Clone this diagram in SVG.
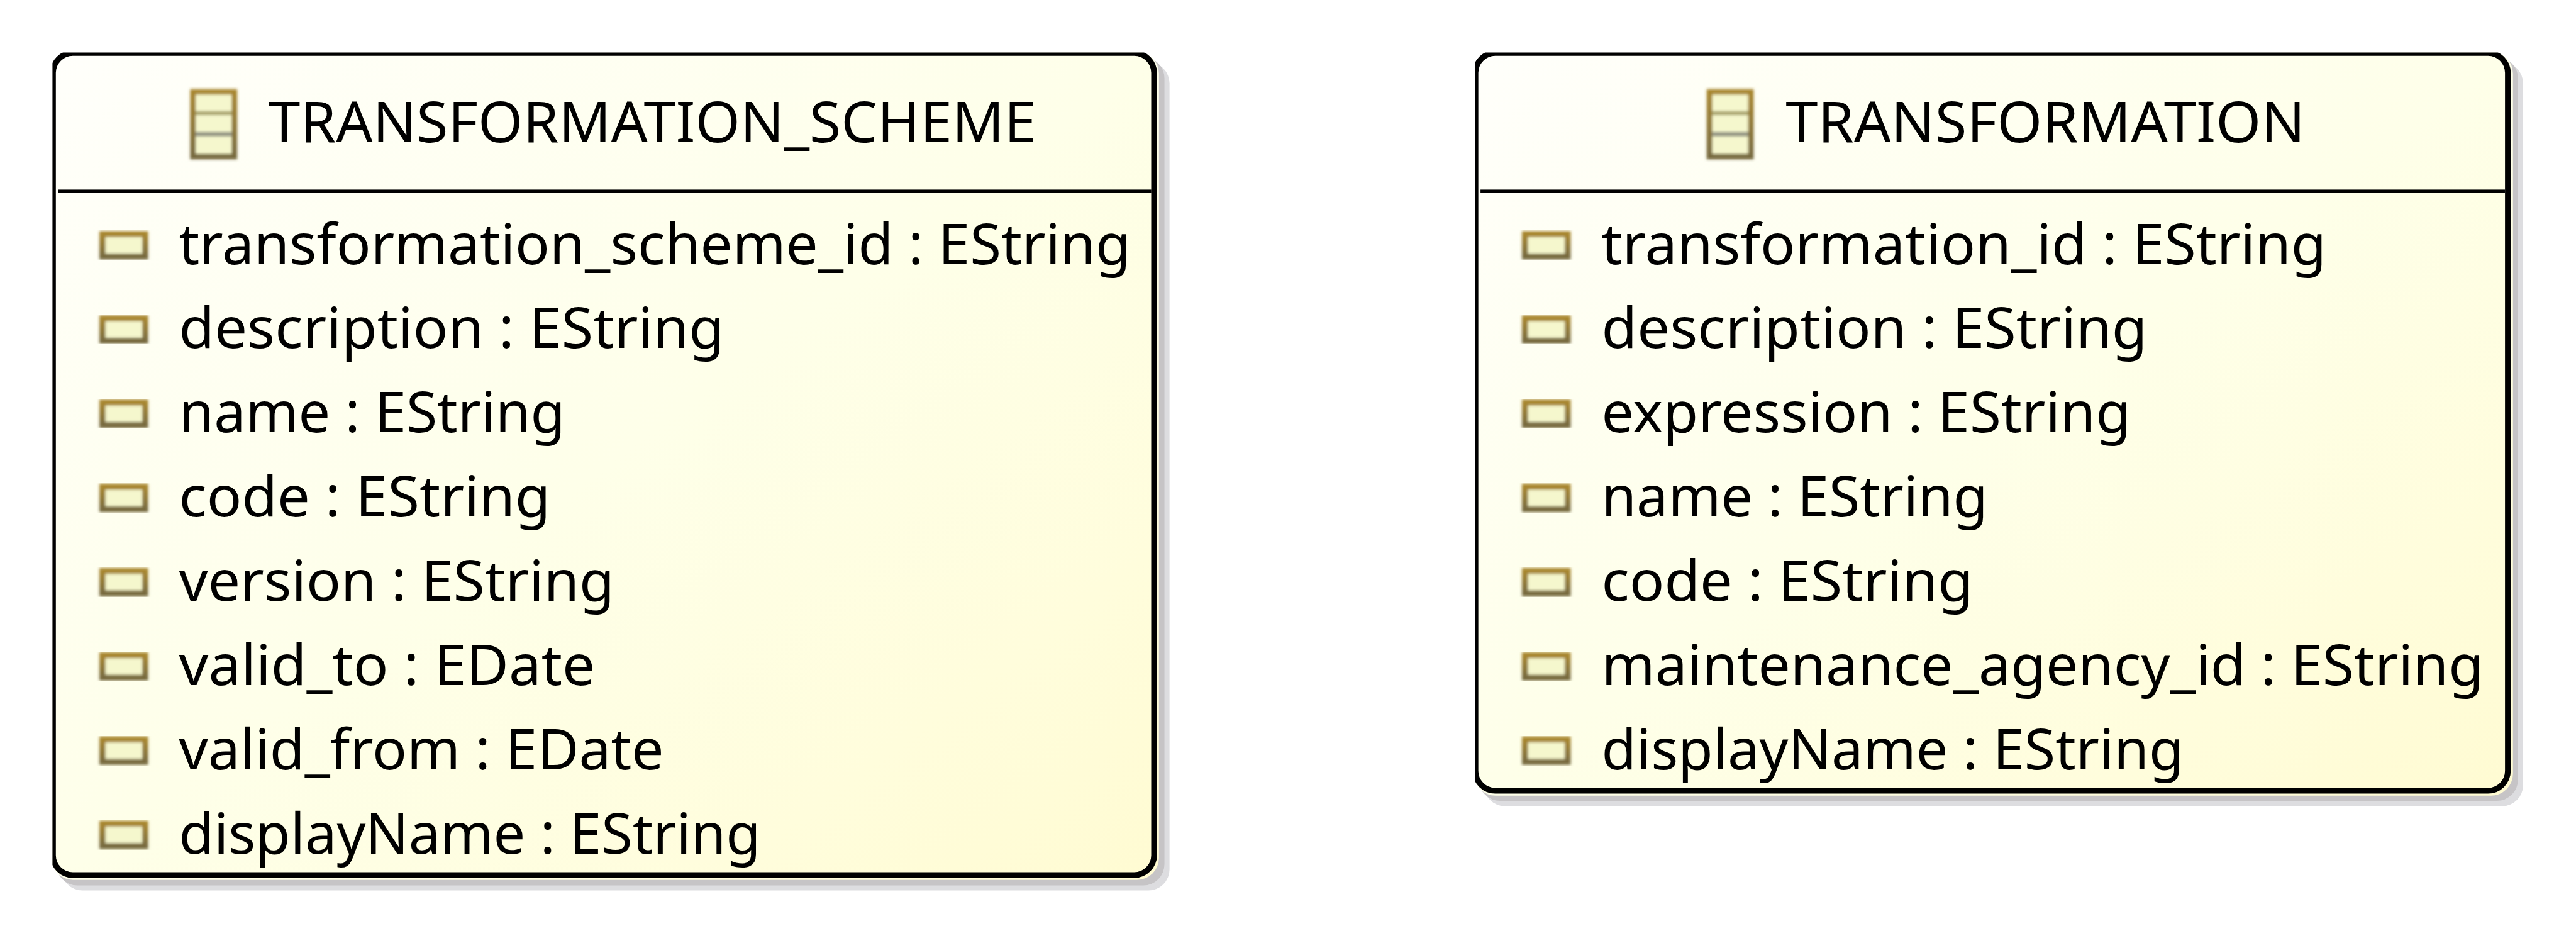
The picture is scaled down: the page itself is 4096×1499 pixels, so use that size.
<svg xmlns="http://www.w3.org/2000/svg" xmlns:xlink="http://www.w3.org/1999/xlink" width="4096" height="1499" viewBox="0 0 4096 1499">
<style>
text{font-family:"Noto Sans","Open Sans","Liberation Sans",sans-serif;font-size:133px;fill:#000}
.s1{fill:#dddde0}.s2{fill:#c6c4c6}
.bd{fill:none;stroke:#000;stroke-width:13.6}
.sep{fill:#000}
</style>
<defs>
<linearGradient id="bg" x1="0" y1="0" x2="1" y2="1"><stop offset="0" stop-color="#fffffb"/><stop offset="0.5" stop-color="#feffe9"/><stop offset="0.8" stop-color="#fffddc"/><stop offset="1" stop-color="#fffbd2"/></linearGradient>
<linearGradient id="ic" x1="0" y1="0" x2="0" y2="1"><stop offset="0" stop-color="#a8862e"/><stop offset="1" stop-color="#76693e"/></linearGradient>
<filter id="bl" x="-15%" y="-15%" width="130%" height="130%"><feGaussianBlur stdDeviation="3"/></filter>
<clipPath id="c1"><rect x="124" y="124" width="2700" height="2000"/></clipPath>
<clipPath id="c2"><rect x="3486" y="124" width="2600" height="1800"/></clipPath>
<g id="attrIcon" filter="url(#bl)"><rect x="5" y="5" width="101" height="53" fill="#f5f7cd" stroke="url(#ic)" stroke-width="14"/></g>
<g id="classIcon" filter="url(#bl)"><rect x="5" y="5" width="98" height="153" fill="#f5f7cd" stroke="url(#ic)" stroke-width="13"/><rect x="11" y="51" width="86" height="9" fill="#a09a5e"/><rect x="11" y="100" width="86" height="10" fill="#8d8f7f"/></g>
</defs>
<rect width="4096" height="1499" fill="#fff"/>
<g transform="scale(0.6728)">
<g id="TRANSFORMATION_SCHEME">
<rect class="s1" x="145" y="147" width="2619" height="1957" rx="50"/>
<rect class="s2" x="133" y="135" width="2619" height="1957" rx="50"/>
<g clip-path="url(#c1)">
<rect x="121" y="122" width="2618" height="1957" rx="52" fill="url(#bg)"/>
<rect class="bd" x="125.2" y="125.2" width="2602.3" height="1942.3" rx="47"/>
</g>
<rect class="sep" x="137" y="448" width="2584" height="8"/>
<use href="#classIcon" x="451" y="212"/>
<text x="634" y="336" textLength="1815" lengthAdjust="spacingAndGlyphs">TRANSFORMATION_SCHEME</text>
<use href="#attrIcon" x="237" y="548"/><text x="423" y="623.7" textLength="2249" lengthAdjust="spacingAndGlyphs">transformation_scheme_id : EString</text>
<use href="#attrIcon" x="237" y="747"/><text x="423" y="822.7" textLength="1289" lengthAdjust="spacingAndGlyphs">description : EString</text>
<use href="#attrIcon" x="237" y="946"/><text x="423" y="1021.7" textLength="913" lengthAdjust="spacingAndGlyphs">name : EString</text>
<use href="#attrIcon" x="237" y="1145"/><text x="423" y="1220.7" textLength="878" lengthAdjust="spacingAndGlyphs">code : EString</text>
<use href="#attrIcon" x="237" y="1344"/><text x="423" y="1419.7" textLength="1029" lengthAdjust="spacingAndGlyphs">version : EString</text>
<use href="#attrIcon" x="237" y="1543"/><text x="423" y="1618.7" textLength="983" lengthAdjust="spacingAndGlyphs">valid_to : EDate</text>
<use href="#attrIcon" x="237" y="1742"/><text x="423" y="1817.7" textLength="1146" lengthAdjust="spacingAndGlyphs">valid_from : EDate</text>
<use href="#attrIcon" x="237" y="1941"/><text x="423" y="2016.7" textLength="1375" lengthAdjust="spacingAndGlyphs">displayName : EString</text>
</g>
<g id="TRANSFORMATION">
<rect class="s1" x="3507" y="147" width="2456" height="1758" rx="50"/>
<rect class="s2" x="3495" y="135" width="2456" height="1757" rx="50"/>
<g clip-path="url(#c2)">
<rect x="3483" y="122" width="2456" height="1758" rx="52" fill="url(#bg)"/>
<rect class="bd" x="3487" y="125.2" width="2440" height="1743" rx="47"/>
</g>
<rect class="sep" x="3499" y="448" width="2421" height="8"/>
<use href="#classIcon" x="4035" y="212"/>
<text x="4220" y="336" textLength="1228" lengthAdjust="spacingAndGlyphs">TRANSFORMATION</text>
<use href="#attrIcon" x="3599" y="548"/><text x="3785" y="623.7" textLength="1713" lengthAdjust="spacingAndGlyphs">transformation_id : EString</text>
<use href="#attrIcon" x="3599" y="747"/><text x="3785" y="822.7" textLength="1290" lengthAdjust="spacingAndGlyphs">description : EString</text>
<use href="#attrIcon" x="3599" y="946"/><text x="3785" y="1021.7" textLength="1251" lengthAdjust="spacingAndGlyphs">expression : EString</text>
<use href="#attrIcon" x="3599" y="1145"/><text x="3785" y="1220.7" textLength="913" lengthAdjust="spacingAndGlyphs">name : EString</text>
<use href="#attrIcon" x="3599" y="1344"/><text x="3785" y="1419.7" textLength="879" lengthAdjust="spacingAndGlyphs">code : EString</text>
<use href="#attrIcon" x="3599" y="1543"/><text x="3785" y="1618.7" textLength="2085" lengthAdjust="spacingAndGlyphs">maintenance_agency_id : EString</text>
<use href="#attrIcon" x="3599" y="1742"/><text x="3785" y="1817.7" textLength="1376" lengthAdjust="spacingAndGlyphs">displayName : EString</text>
</g>
</g>
</svg>
